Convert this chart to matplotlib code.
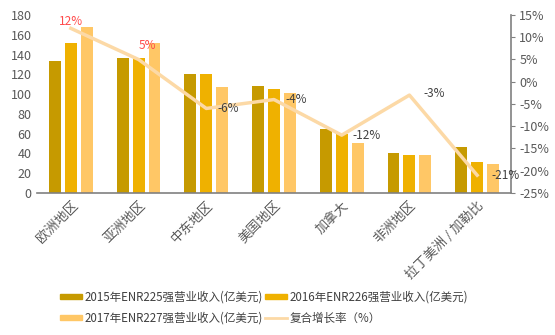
import matplotlib
matplotlib.use("Agg")
import matplotlib.pyplot as plt
import numpy as np
from matplotlib.ticker import FuncFormatter
from matplotlib.patches import Patch
from matplotlib.lines import Line2D

plt.rcParams['font.family'] = ['Noto Sans CJK SC', 'DejaVu Sans']

categories = ['欧洲地区', '亚洲地区', '中东地区', '美国地区', '加拿大', '非洲地区', '拉丁美洲 / 加勒比']
rev2015 = [133, 137, 120, 108, 65, 40, 47]
rev2016 = [152, 137, 120, 105, 60, 38, 31]
rev2017 = [168, 152, 107, 101, 51, 38, 29]
growth = [12, 5, -6, -4, -12, -3, -21]
growth_labels = ['12%', '5%', '-6%', '-4%', '-12%', '-3%', '-21%']
series_names = ['2015年ENR225强营业收入(亿美元)', '2016年ENR226强营业收入(亿美元)',
                '2017年ENR227强营业收入(亿美元)', '复合增长率（%）']

c1, c2, c3 = '#C69A00', '#EFB100', '#FFC766'
cl = '#FCD9A6'
gray = '#595959'

fig = plt.figure(figsize=(5.55, 3.35), dpi=100)
ax = fig.add_axes([37/555, 1-193/335, (511-37)/555, (193-15)/335])
ax2 = ax.twinx()

x = np.arange(len(categories))
w = 0.176
step = 0.235
ax.bar(x - step, rev2015, w, color=c1, zorder=2)
ax.bar(x, rev2016, w, color=c2, zorder=2)
ax.bar(x + step, rev2017, w, color=c3, zorder=2)

ax.set_ylim(0, 180)
ax.set_yticks(range(0, 181, 20))
ax.set_xlim(-0.5, len(categories) - 0.5)
ax.set_xticks(x)
ax.set_xticklabels(categories, rotation=45, ha='right', rotation_mode='anchor', fontsize=9.5, color=gray)
ax.tick_params(axis='x', length=0, pad=4)
ax.tick_params(axis='y', length=0, labelsize=9, labelcolor=gray, pad=4)
for s in ['top', 'right', 'left']:
    ax.spines[s].set_visible(False)
ax.spines['bottom'].set_color('#808080')
ax.spines['bottom'].set_linewidth(1.2)

ax2.plot(x, growth, color=cl, lw=2.5, zorder=3)
ax2.set_ylim(-25, 15)
ax2.set_yticks(range(-25, 16, 5))
ax2.yaxis.set_major_formatter(FuncFormatter(lambda v, p: f'{int(v)}%'))
ax2.tick_params(axis='y', length=3, direction='out', color='#808080', labelsize=9, labelcolor=gray, pad=3)
for s in ['top', 'left', 'bottom']:
    ax2.spines[s].set_visible(False)
ax2.spines['right'].set_color('#808080')
ax2.spines['right'].set_linewidth(1.2)

offsets = [(0, 5), (0, 10), (8, 0), (8, 0), (8, 0), (10, 1), (10, 0)]
has = ['center', 'left', 'left', 'left', 'left', 'left', 'left']
for i, (g, lab) in enumerate(zip(growth, growth_labels)):
    col = '#FF4B4B' if g > 0 else '#404040'
    ax2.annotate(lab, (x[i], g), xytext=offsets[i], textcoords='offset points',
                 ha=has[i], va='center', fontsize=8.5, color=col, zorder=4)

handles = [Patch(color=c1), Patch(color=c3), Patch(color=c2), Line2D([], [], color=cl, lw=2)]
labels = [series_names[0], series_names[2], series_names[1], series_names[3]]
fig.legend(handles, labels, ncol=2, loc='lower center', bbox_to_anchor=(0.476, 0.0),
           frameon=False, fontsize=8.3, labelcolor='#404040', handlelength=1.9, handleheight=0.4,
           handletextpad=0.2, columnspacing=0.2, labelspacing=0.7)

fig.savefig('out.png', dpi=100)
